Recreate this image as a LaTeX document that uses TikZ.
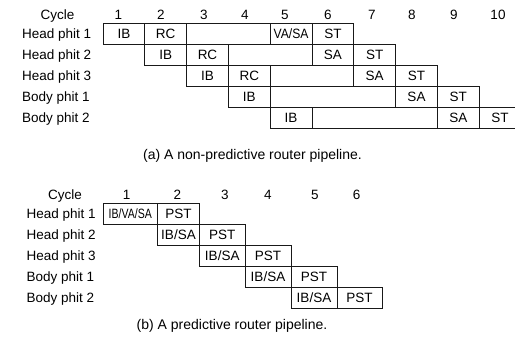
\documentclass[tikz,border=0pt]{standalone}
\usepackage{fontspec}
\setmainfont{Liberation Sans}
\usepackage{graphicx}
\newcommand\pcell[5]{\node[cell, minimum width={#3pt-#2pt}] (#1) at ({(#2+#3)/2},#4) {#5};}
\begin{document}
\begin{tikzpicture}[x=1pt,y=-1pt,
  txt/.style={inner sep=0pt, font=\fontsize{13.5}{16}\selectfont, text height=9.6pt, text depth=0pt},
  cell/.style={txt, draw=black!90, line width=0.75pt, minimum height=21pt},
  lbl/.style={txt, anchor=west},
  num/.style={txt},
  capt/.style={txt, font=\fontsize{14}{16}\selectfont}]
\useasboundingbox (0,0) rectangle (515,338);
\clip (0,0) rectangle (515,338);

% ---------- (a) ----------
\node[num] (ca) at (57.5,15) {Cycle};
\node[num] (a1) at (118.5,15) {1};
\node[num] (a2) at (161,15) {2};
\node[num] (a3) at (204,15) {3};
\node[num] (a4) at (245,15) {4};
\node[num] (a5) at (285,15) {5};
\node[num] (a6) at (328,15) {6};
\node[num] (a7) at (372,15) {7};
\node[num] (a8) at (412,15) {8};
\node[num] (a9) at (454,15) {9};
\node[num] (a10) at (498,15) {10};

\node[lbl] (la1) at (22,34) {Head phit 1};
\node[lbl] (la2) at (22,55) {Head phit 2};
\node[lbl] (la3) at (22,76) {Head phit 3};
\node[lbl] (la4) at (22,97) {Body phit 1};
\node[lbl] (la5) at (22,118) {Body phit 2};

% row 1
\pcell{r1a}{103}{144.8}{34}{IB}
\pcell{r1b}{144.8}{186.6}{34}{RC}
\pcell{r1c}{186.6}{270.2}{34}{}
\pcell{r1d}{270.2}{312}{34}{\scalebox{0.9}[1]{VA/SA}}
\pcell{r1e}{312}{353.8}{34}{ST}
% row 2
\pcell{r2a}{144.8}{186.6}{55}{IB}
\pcell{r2b}{186.6}{228.4}{55}{RC}
\pcell{r2c}{228.4}{312}{55}{}
\pcell{r2d}{312}{353.8}{55}{SA}
\pcell{r2e}{353.8}{395.6}{55}{ST}
% row 3
\pcell{r3a}{186.6}{228.4}{76}{IB}
\pcell{r3b}{228.4}{270.2}{76}{RC}
\pcell{r3c}{270.2}{353.8}{76}{}
\pcell{r3d}{353.8}{395.6}{76}{SA}
\pcell{r3e}{395.6}{437.4}{76}{ST}
% row 4
\pcell{r4a}{228.4}{270.2}{97}{IB}
\pcell{r4c}{270.2}{395.6}{97}{}
\pcell{r4d}{395.6}{437.4}{97}{SA}
\pcell{r4e}{437.4}{479.2}{97}{ST}
% row 5
\pcell{r5a}{270.2}{312}{118}{IB}
\pcell{r5c}{312}{437.4}{118}{}
\pcell{r5d}{437.4}{479.2}{118}{SA}
\pcell{r5e}{479.2}{521}{118}{ST}

\node[capt] (capa) at (252.5,155) {(a) A non-predictive router pipeline.};

% ---------- (b) ----------
\node[num] (cb) at (65,195) {Cycle};
\node[num] (b1) at (126.7,195) {1};
\node[num] (b2) at (177.3,195) {2};
\node[num] (b3) at (225,195) {3};
\node[num] (b4) at (268,195) {4};
\node[num] (b5) at (315,195) {5};
\node[num] (b6) at (356.7,195) {6};

\node[lbl] (lb1) at (26.5,214) {Head phit 1};
\node[lbl] (lb2) at (26.5,235) {Head phit 2};
\node[lbl] (lb3) at (26.5,256) {Head phit 3};
\node[lbl] (lb4) at (26.5,277) {Body phit 1};
\node[lbl] (lb5) at (26.5,298) {Body phit 2};

\pcell{s1a}{103}{157.5}{214}{\scalebox{0.78}[1]{IB/VA/SA}}
\pcell{s1b}{157.5}{199.5}{214}{PST}
\pcell{s2a}{157.5}{199.5}{235}{IB/SA}
\pcell{s2b}{199.5}{245}{235}{PST}
\pcell{s3a}{199.5}{245}{256}{IB/SA}
\pcell{s3b}{245}{291}{256}{PST}
\pcell{s4a}{245}{291}{277}{IB/SA}
\pcell{s4b}{291}{337}{277}{PST}
\pcell{s5a}{291}{337}{298}{IB/SA}
\pcell{s5b}{337}{382}{298}{PST}

\node[capt] (capb) at (232,325) {(b) A predictive router pipeline.};
\end{tikzpicture}
\end{document}
